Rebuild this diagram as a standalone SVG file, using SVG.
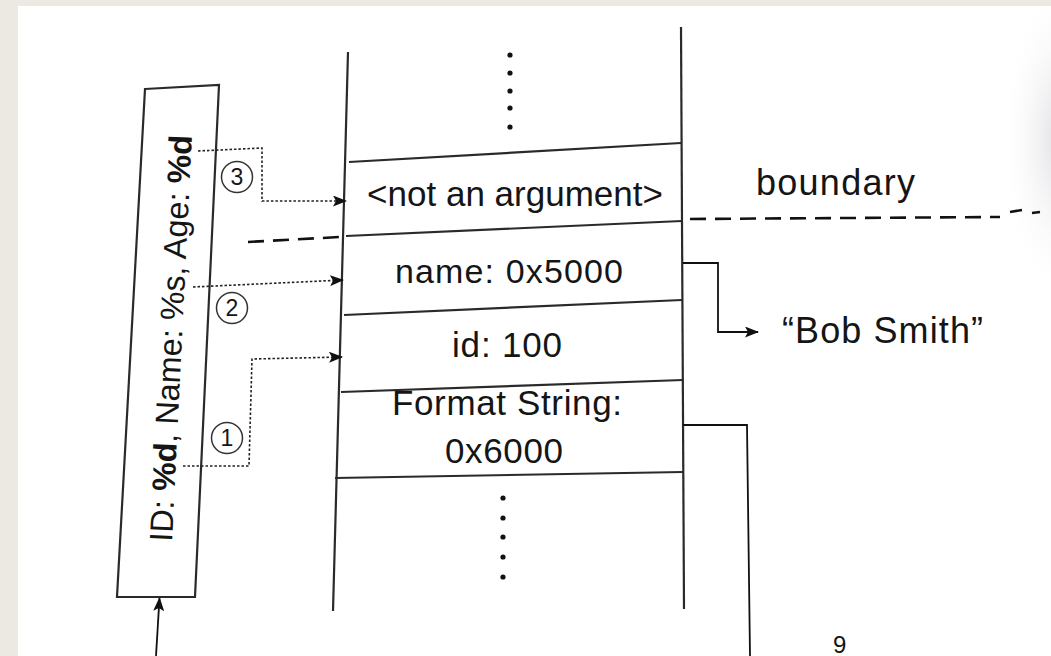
<svg xmlns="http://www.w3.org/2000/svg" width="1051" height="656" viewBox="0 0 1051 656">
  <style>
    .t { font-family: "Liberation Sans", Arial, sans-serif; fill: #151515; }
    .cell { stroke: #2a2a2a; stroke-width: 2.2; fill: none; }
    .dot { stroke: #222; stroke-width: 1.6; fill: none; stroke-dasharray: 2.5 2; }
    .solid { stroke: #111; stroke-width: 1.8; fill: none; }
    .dash { stroke: #111; stroke-width: 2.6; fill: none; stroke-dasharray: 16 9; }
    .circ { stroke: #333; stroke-width: 1.5; fill: none; }
    .b { font-weight: bold; }
  </style>
  <defs>
    <marker id="ah" viewBox="0 0 14 11" refX="13" refY="5.5" markerWidth="14" markerHeight="11" markerUnits="userSpaceOnUse" orient="auto">
      <path d="M0,0 L14,5.5 L0,11 L3,5.5 Z" fill="#111"/>
    </marker>
    <radialGradient id="edge" gradientUnits="userSpaceOnUse" cx="1060" cy="140" r="60" gradientTransform="translate(1060,140) scale(1,2.6) translate(-1060,-140)">
      <stop offset="0" stop-color="#d6d6db" stop-opacity="0.8"/>
      <stop offset="1" stop-color="#ffffff" stop-opacity="0"/>
    </radialGradient>
  </defs>

  <!-- background / page -->
  <rect x="0" y="0" width="1051" height="656" fill="#ECE9E2"/>
  <rect x="18" y="6" width="1033" height="650" fill="#FFFFFF"/>
  <rect x="990" y="6" width="61" height="320" fill="url(#edge)"/>

  <!-- format string box -->
  <g id="format-box">
    <polygon points="145,89 219,85 195,597 117,597" class="cell"/>
    <text class="t" font-size="32.3" transform="translate(172,542) rotate(-87.2)" textLength="407">ID: <tspan class="b">%d</tspan>, Name: %s, Age: <tspan class="b">%d</tspan></text>
  </g>

  <!-- stack -->
  <g id="stack">
    <line x1="348" y1="52" x2="333" y2="611" class="cell"/>
    <line x1="681" y1="27" x2="684" y2="609" class="cell"/>
    <line x1="349" y1="162" x2="681" y2="143" class="cell"/>
    <line x1="346" y1="236" x2="682" y2="221" class="cell" stroke-width="2.8"/>
    <line x1="344" y1="315" x2="682" y2="300" class="cell"/>
    <line x1="341" y1="392" x2="683" y2="380" class="cell"/>
    <line x1="335" y1="478" x2="683" y2="472" class="cell"/>
    <g fill="#111">
      <circle cx="510" cy="55" r="2.6"/>
      <circle cx="510" cy="73" r="2.6"/>
      <circle cx="510" cy="91" r="2.6"/>
      <circle cx="510" cy="108" r="2.6"/>
      <circle cx="510" cy="127" r="2.6"/>
      <circle cx="503" cy="498" r="2.6"/>
      <circle cx="503" cy="518" r="2.6"/>
      <circle cx="503" cy="537" r="2.6"/>
      <circle cx="503" cy="557" r="2.6"/>
      <circle cx="503" cy="577" r="2.6"/>
    </g>
  </g>

  <g id="cell-not-arg">
    <text class="t" font-size="35" x="367" y="206" textLength="296">&lt;not an argument&gt;</text>
  </g>
  <g id="cell-name">
    <text class="t" font-size="34" x="395" y="283" textLength="228">name: 0x5000</text>
  </g>
  <g id="cell-id">
    <text class="t" font-size="35" x="452" y="357" textLength="110">id: 100</text>
  </g>
  <g id="cell-format">
    <text class="t" font-size="35" x="392" y="415" textLength="230">Format String:</text>
    <text class="t" font-size="35" x="445" y="463" textLength="118">0x6000</text>
  </g>

  <g id="boundary-label">
    <text class="t" font-size="36" x="756" y="195" textLength="159">boundary</text>
  </g>
  <g id="bob">
    <text class="t" font-size="36" x="782" y="343" textLength="201">“Bob Smith”</text>
  </g>

  <!-- circled numbers -->
  <g id="n3">
    <circle cx="237" cy="177" r="15.5" class="circ"/>
    <text class="t" font-size="23" x="237" y="185" text-anchor="middle">3</text>
  </g>
  <g id="n2">
    <circle cx="232" cy="308" r="15.5" class="circ"/>
    <text class="t" font-size="23" x="232" y="316" text-anchor="middle">2</text>
  </g>
  <g id="n1">
    <circle cx="227" cy="438" r="15.5" class="circ"/>
    <text class="t" font-size="23" x="227" y="446" text-anchor="middle">1</text>
  </g>

  <!-- connectors -->
  <g id="connectors">
    <polyline points="198,151 262,148 262,201 346,201" class="dot" marker-end="url(#ah)"/>
    <polyline points="193,287 343,280" class="dot" marker-end="url(#ah)"/>
    <polyline points="183,466 249,466 252,359 342,357" class="dot" marker-end="url(#ah)"/>
    <path d="M248,242 L340,237" class="dash"/>
    <path d="M690,219 L1000,217 M1010,212 L1022,210 M1032,213 L1040,212" class="dash"/>
    <polyline points="683,263 718,263 718,332 758,332" class="solid" marker-end="url(#ah)"/>
    <polyline points="683,425 747,425 750,656" class="solid"/>
    <line x1="156" y1="656" x2="159.5" y2="598" class="solid" marker-end="url(#ah)"/>
  </g>

  <text class="t" font-size="24" x="833" y="653">9</text>
</svg>
